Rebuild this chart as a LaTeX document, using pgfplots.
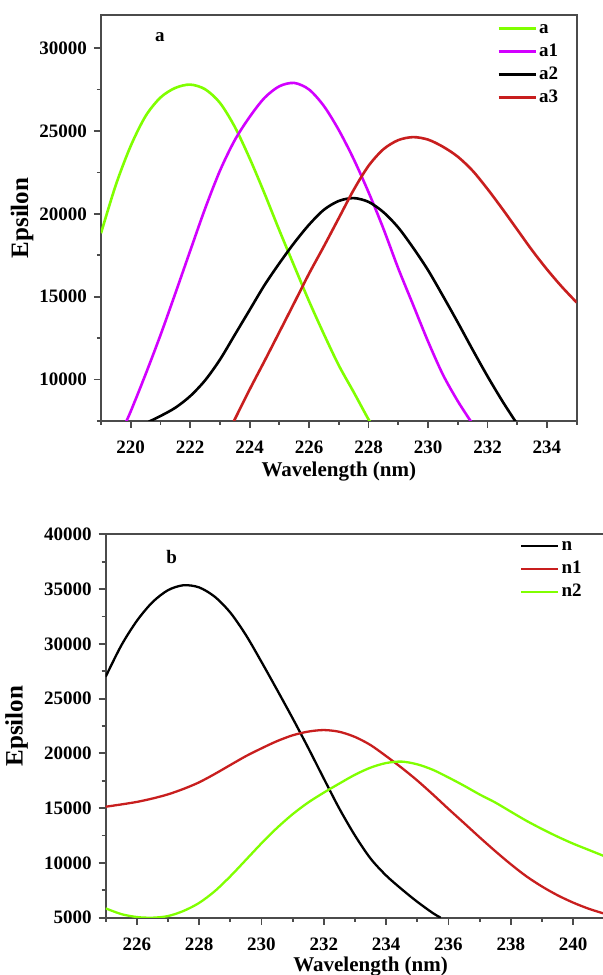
\documentclass[border=0pt]{standalone}
\usepackage{fontspec}
\setmainfont{Liberation Serif}
\usepackage{pgfplots}
\pgfplotsset{compat=1.18}
\definecolor{lgreen}{RGB}{128,255,0}
\definecolor{lmag}{RGB}{210,0,255}
\definecolor{lred}{RGB}{200,30,30}
\definecolor{frame}{RGB}{75,75,75}

\pgfplotsset{
  uvstyle/.style={
    scale only axis,
    axis line style={frame, line width=1pt},
    tick align=outside,
    xtick pos=left, ytick pos=left,
    major tick length=3.5pt, minor tick length=2pt,
    tick style={frame, line width=0.9pt},
    scaled y ticks=false,
    /pgf/number format/1000 sep={},
    /pgf/number format/assume math mode=true,
    tick label style={font=\fontsize{9.5}{10}\selectfont\bfseries},
    xticklabel style={yshift=-3pt},
    xlabel style={font=\fontsize{10.5}{12}\selectfont\bfseries},
    ylabel style={font=\fontsize{12.5}{14}\selectfont\bfseries},
    legend cell align=left,
    legend style={draw=none, fill=none, inner sep=0pt,
      font=\fontsize{9.5}{10}\selectfont\bfseries,
      nodes={text height=7.4pt, text depth=2.1pt, inner sep=1pt}},
    legend image code/.code={\draw[#1] (0pt,0pt) -- (18.5pt,0pt);},
    every axis plot/.append style={line width=1.3pt, smooth},
  }
}

\begin{document}
\begin{tikzpicture}
% panel a
\begin{axis}[uvstyle,
  at={(50.5pt,277pt)}, anchor=south west,
  width=237.85pt, height=203pt,
  xmin=219, xmax=235, ymin=7500, ymax=32000,
  xtick={220,222,...,234}, minor xtick={219,221,...,235},
  ytick={10000,15000,...,30000}, minor ytick={7500,12500,...,27500},
  xlabel={Wavelength (nm)}, ylabel={Epsilon},
  xlabel style={at={(axis description cs:0.5,-0.125)}, anchor=center},
  ylabel style={at={(axis description cs:-0.166,0.5)}, anchor=center},
  legend style={at={(axis description cs:0.8325,0.9963)}, anchor=north west},
]
\addplot[lgreen] coordinates {
(219.0,18830)(219.5,21750)(220.0,24100)(220.5,25900)(221.0,27020)
(221.5,27600)(222.0,27800)(222.5,27520)(223.0,26700)(223.5,25250)
(224.0,23350)(224.5,21230)(225.0,19000)(225.5,16850)(226.0,14720)
(226.5,12730)(227.0,10850)(227.5,9240)(228.0,7590)(228.1,7400)};
\addlegendentry{a}
\addplot[lmag] coordinates {
(219.83,7400)(220.0,8080)(220.5,10320)(221.0,12680)(221.5,15200)
(222.0,17770)(222.5,20310)(223.0,22600)(223.5,24450)(224.0,25850)
(224.5,27000)(225.0,27700)(225.5,27900)(226.0,27500)(226.5,26500)
(227.0,25050)(227.5,23300)(228.0,21300)(228.5,19100)(229.0,16700)
(229.5,14500)(230.0,12300)(230.5,10300)(231.0,8700)(231.45,7450)};
\addlegendentry{a1}
\addplot[black] coordinates {
(220.6,7450)(221.0,7800)(221.5,8300)(222.0,9000)(222.5,9950)
(223.0,11200)(223.5,12700)(224.0,14200)(224.5,15700)(225.0,17020)
(225.5,18250)(226.0,19350)(226.5,20250)(227.0,20780)(227.5,20950)
(228.0,20720)(228.5,20100)(229.0,19170)(229.5,17950)(230.0,16600)
(230.5,15050)(231.0,13450)(231.5,11800)(232.0,10200)(232.5,8700)
(232.95,7450)};
\addlegendentry{a2}
\addplot[lred] coordinates {
(223.45,7420)(224.0,9400)(224.5,11120)(225.0,12870)(225.5,14630)
(226.0,16400)(226.5,18050)(227.0,19750)(227.5,21450)(228.0,22900)
(228.5,23900)(229.0,24450)(229.5,24630)(230.0,24480)(230.5,24050)
(231.0,23450)(231.5,22600)(232.0,21500)(232.5,20300)(233.0,19050)
(233.5,17800)(234.0,16650)(234.5,15600)(235.0,14650)};
\addlegendentry{a3}
\node[font=\fontsize{9.5}{10}\selectfont\bfseries] at (axis cs:220.98,30690) {a};
\end{axis}
% panel b
\begin{axis}[uvstyle,
  at={(52.85pt,28.65pt)}, anchor=south west,
  width=264.86pt, height=191.7pt,
  xmin=225, xmax=242, ymin=5000, ymax=40000,
  xtick={226,228,...,240}, minor xtick={225,227,...,241},
  ytick={5000,10000,...,40000}, minor ytick={7500,12500,...,37500},
  xlabel={Wavelength (nm)}, ylabel={Epsilon},
  xlabel style={at={(axis description cs:0.5,-0.128)}, anchor=center},
  ylabel style={at={(axis description cs:-0.168,0.5)}, anchor=center},
  legend style={at={(axis description cs:0.782,1.0014)}, anchor=north west},
  every axis plot/.append style={line width=1.15pt},
]
\addplot[black] coordinates {
(225.0,27000)(225.5,29850)(226.0,32100)(226.5,33800)(227.0,34900)
(227.5,35350)(228.0,35150)(228.5,34300)(229.0,32850)(229.5,30800)
(230.0,28350)(230.5,25800)(231.0,23200)(231.5,20500)(232.0,17700)
(232.5,14950)(233.0,12500)(233.5,10400)(234.0,8850)(234.5,7600)
(235.0,6450)(235.5,5420)(235.75,5000)};
\addlegendentry{n}
\addplot[lred] coordinates {
(225.0,15130)(225.5,15340)(226.0,15570)(226.5,15880)(227.0,16260)
(227.5,16760)(228.0,17360)(228.5,18120)(229.0,18940)(229.5,19750)
(230.0,20460)(230.5,21120)(231.0,21650)(231.5,21990)(232.0,22130)
(232.5,21970)(233.0,21500)(233.5,20760)(234.0,19750)(234.5,18680)
(235.0,17520)(235.5,16250)(236.0,14930)(236.5,13640)(237.0,12340)
(237.5,11080)(238.0,9880)(238.5,8780)(239.0,7850)(239.5,7050)
(240.0,6380)(240.5,5820)(241.0,5370)(241.1,5290)};
\addlegendentry{n1}
\addplot[lgreen] coordinates {
(225.0,5850)(225.5,5330)(226.0,5060)(226.5,5000)(227.0,5150)
(227.5,5620)(228.0,6350)(228.5,7420)(229.0,8780)(229.5,10280)
(230.0,11790)(230.5,13200)(231.0,14450)(231.5,15520)(232.0,16420)
(232.5,17250)(233.0,18050)(233.5,18700)(234.0,19120)(234.5,19250)
(235.0,19000)(235.5,18500)(236.0,17800)(236.5,17050)(237.0,16250)
(237.5,15520)(238.0,14680)(238.5,13850)(239.0,13100)(239.5,12400)
(240.0,11760)(240.5,11190)(241.0,10620)(241.1,10510)};
\addlegendentry{n2}
\node[font=\fontsize{9.5}{10}\selectfont\bfseries] at (axis cs:227.12,37955) {b};
\end{axis}
\pgfresetboundingbox
\path[use as bounding box] (0pt,0pt) rectangle (301.5pt,487.5pt);
\end{tikzpicture}
\end{document}
